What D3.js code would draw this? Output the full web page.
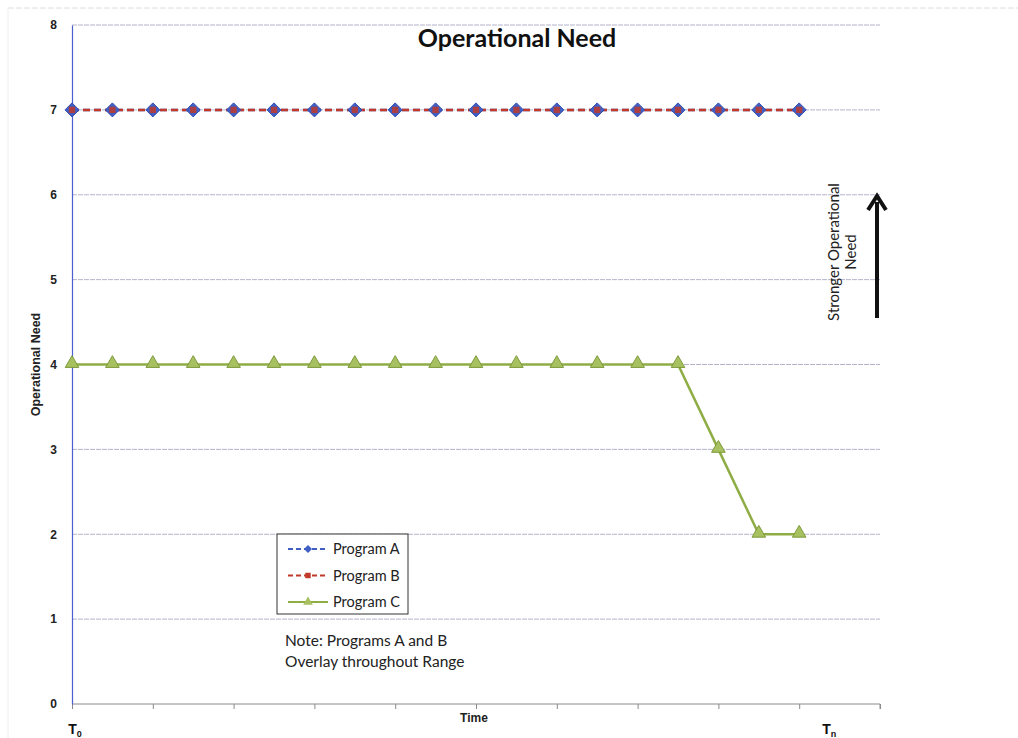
<!DOCTYPE html>
<html><head><meta charset="utf-8">
<script src="https://cdn.jsdelivr.net/npm/d3@7"></script>
<style>body{margin:0;background:#fff}svg{display:block}</style>
</head><body>
<script>
const timeIdx = d3.range(19);
const programA = [7,7,7,7,7,7,7,7,7,7,7,7,7,7,7,7,7,7,7];
const programB = [7,7,7,7,7,7,7,7,7,7,7,7,7,7,7,7,7,7,7];
const programC = [4,4,4,4,4,4,4,4,4,4,4,4,4,4,4,4,3,2,2];
const yTicks = [0,1,2,3,4,5,6,7,8];
const xTicks = [0,2,4,6,8,10,12,14,16,18,20];
const seriesNames = ["Program A","Program B","Program C"];

const W=1018,H=738;
const svg=d3.select("body").append("svg").attr("width",W).attr("height",H);
const font="Lato, 'Open Sans', sans-serif";
const arial="'Liberation Sans', Arial, sans-serif";
const x=d3.scaleLinear().domain([0,20]).range([72,880]);
const y=d3.scaleLinear().domain([0,8]).range([704,25]);

// faint outer frame
svg.append("line").attr("x1",8).attr("x2",W).attr("y1",8).attr("y2",8).attr("stroke","#dcdce4").attr("stroke-width",1).attr("stroke-dasharray","6,2");
svg.append("line").attr("x1",8).attr("x2",8).attr("y1",8).attr("y2",H).attr("stroke","#eeeef2").attr("stroke-width",1);

// gridlines
svg.append("g").selectAll("line").data(yTicks.filter(d=>d>0)).join("line")
  .attr("x1",x(0)).attr("x2",x(20)).attr("y1",d=>y(d)).attr("y2",d=>y(d))
  .attr("stroke","#b4b4cc").attr("stroke-width",1).attr("stroke-dasharray","5,1");

// x axis
const xa=svg.append("g").attr("transform",`translate(0,${y(0)})`)
  .call(d3.axisBottom(x).tickValues(xTicks).tickSize(5).tickFormat(""));
xa.select(".domain").attr("stroke","#8a8a8a").attr("d",`M${x(0)},0H${x(20)}V5`);
xa.selectAll(".tick line").attr("stroke","#8a8a8a");
// y axis
const ya=svg.append("g").attr("transform",`translate(${x(0)},0)`)
  .call(d3.axisLeft(y).tickValues(yTicks).tickSize(0).tickPadding(15).tickFormat(d3.format("d")));
ya.select(".domain").attr("stroke","#4a5fd0").attr("stroke-width",1.2);
ya.selectAll("text").attr("font-family",arial).attr("font-weight","bold").attr("font-size",12).attr("fill","#222");

// titles
svg.append("text").attr("x",517).attr("y",47).attr("text-anchor","middle")
  .attr("font-family",font).attr("font-weight","bold").attr("font-size",25).attr("fill","#111").text("Operational Need");
svg.append("text").attr("transform",`translate(40,${y(4)}) rotate(-90)`).attr("text-anchor","middle")
  .attr("font-family",arial).attr("font-weight","bold").attr("font-size",12.5).attr("fill","#222").text("Operational Need");
svg.append("text").attr("x",474).attr("y",722).attr("text-anchor","middle")
  .attr("font-family",arial).attr("font-weight","bold").attr("font-size",12).attr("fill","#222").text("Time");

function tLabel(xx,sub){
  const t=svg.append("text").attr("x",xx).attr("y",734).attr("text-anchor","middle")
    .attr("font-family",arial).attr("font-weight","bold").attr("font-size",14).attr("fill","#111");
  t.append("tspan").text("T");
  t.append("tspan").attr("dy",3).attr("font-size",9).text(sub);
}
tLabel(x(0)+3,"0");
tLabel(x(18)+30,"n");

// lines
const colA="#3f5fc4",colB="#c0392b",colC="#8fad45";
const line=d3.line().x((d,i)=>x(timeIdx[i])).y(d=>y(d));
svg.append("path").attr("d",line(programA)).attr("fill","none").attr("stroke",colA).attr("stroke-width",2.5).attr("stroke-dasharray","7,4");
svg.append("path").attr("d",line(programB)).attr("fill","none").attr("stroke",colB).attr("stroke-width",2.5).attr("stroke-dasharray","7,4");
svg.append("path").attr("d",line(programC)).attr("fill","none").attr("stroke",colC).attr("stroke-width",2.5);

const diamondPath=r=>`M0,${-r}L${r},0L0,${r}L${-r},0Z`;
const square=d3.symbol().type(d3.symbolSquare).size(40);
const tri=d3.symbol().type(d3.symbolTriangle).size(80);
svg.append("g").selectAll("path").data(programA).join("path")
  .attr("d",diamondPath(7)).attr("transform",(d,i)=>`translate(${x(timeIdx[i])},${y(d)})`).attr("fill",colA).attr("stroke","#2f4db0").attr("stroke-width",1);
svg.append("g").selectAll("path").data(programB).join("path")
  .attr("d",square).attr("transform",(d,i)=>`translate(${x(timeIdx[i])},${y(d)})`).attr("fill",colB).attr("opacity",0.85);
svg.append("g").selectAll("path").data(programC).join("path")
  .attr("d",tri).attr("transform",(d,i)=>`translate(${x(timeIdx[i])},${y(d)-1})`).attr("fill","#a7c060").attr("stroke","#7f9a3c").attr("stroke-width",1);

// legend
const lg=svg.append("g");
lg.append("rect").attr("x",277).attr("y",534).attr("width",131).attr("height",80).attr("fill","#fff").attr("stroke","#333").attr("stroke-width",1);
const cols=[colA,colB,colC];
seriesNames.forEach((n,i)=>{
  const yy=549+i*26.5;
  lg.append("line").attr("x1",288).attr("x2",328).attr("y1",yy).attr("y2",yy).attr("stroke",cols[i]).attr("stroke-width",2).attr("stroke-dasharray",i<2?"5,3":null);
  lg.append("path").attr("d",i===0?diamondPath(4):d3.symbol().type(i===1?d3.symbolSquare:d3.symbolTriangle).size(i===1?30:40)())
    .attr("transform",`translate(308,${yy})`).attr("fill",i===2?"#a7c060":cols[i]);
  lg.append("text").attr("x",333).attr("y",yy+5).attr("font-family",font).attr("font-size",14.5).attr("fill","#222").text(n);
});

// note
const note=svg.append("text").attr("font-family",font).attr("font-size",15.5).attr("fill","#222");
note.append("tspan").attr("x",285).attr("y",646).text("Note: Programs A and B");
note.append("tspan").attr("x",285).attr("y",667).text("Overlay throughout Range");

// arrow annotation
const an=svg.append("text").attr("transform",`translate(839,252) rotate(-90)`).attr("text-anchor","middle")
  .attr("font-family",font).attr("font-size",15).attr("fill","#222");
an.append("tspan").attr("x",0).attr("y",0).text("Stronger Operational");
an.append("tspan").attr("x",0).attr("y",17).text("Need");
svg.append("line").attr("x1",877).attr("x2",877).attr("y1",318).attr("y2",202).attr("stroke","#111").attr("stroke-width",4);
svg.append("path").attr("d","M868,210 L877,196 L886,210").attr("fill","none").attr("stroke","#111").attr("stroke-width",4).attr("stroke-linejoin","miter");
</script>
</body></html>
